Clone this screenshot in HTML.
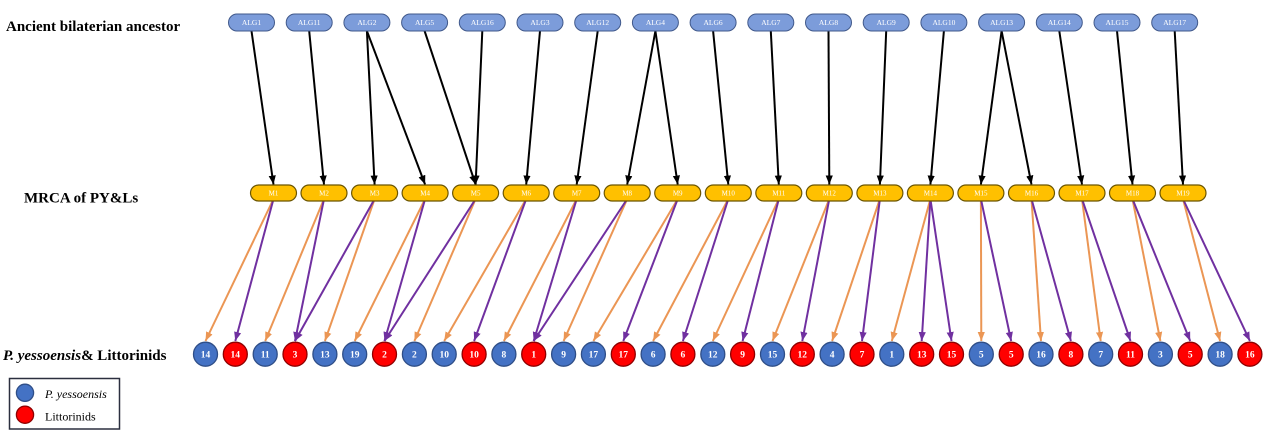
<!DOCTYPE html>
<html><head><meta charset="utf-8"><style>
html,body{margin:0;padding:0;background:#fff;}
svg{display:block;}
</style></head><body>
<svg width="1271" height="433" viewBox="0 0 1271 433" xmlns="http://www.w3.org/2000/svg">
<defs>
<marker id="ak" viewBox="0 0 10 8" refX="10" refY="4" markerWidth="9" markerHeight="7.5" orient="auto" markerUnits="userSpaceOnUse"><path d="M0,0 L10,4 L0,8 z" fill="#000"/></marker>
<marker id="ao" viewBox="0 0 10 8" refX="10" refY="4" markerWidth="9" markerHeight="7.5" orient="auto" markerUnits="userSpaceOnUse"><path d="M0,0 L10,4 L0,8 z" fill="#EB9654"/></marker>
<marker id="ap" viewBox="0 0 10 8" refX="10" refY="4" markerWidth="9" markerHeight="7.5" orient="auto" markerUnits="userSpaceOnUse"><path d="M0,0 L10,4 L0,8 z" fill="#7030A0"/></marker>
</defs>

<!-- Row labels -->
<g font-family="'Liberation Serif', serif" font-weight="bold" font-size="15" fill="#000">
<text x="6" y="31">Ancient bilaterian ancestor</text>
<text x="24" y="202.5">MRCA of PY&amp;Ls</text>
<text x="3" y="360"><tspan font-style="italic">P. yessoensis</tspan>&amp; Littorinids</text>
</g>

<!-- Black arrows ALG -> M -->
<g stroke="#000" stroke-width="2" marker-end="url(#ak)">
<line x1="251.5" y1="31" x2="273.5" y2="184.5"/>
<line x1="309.2" y1="31" x2="324.0" y2="184.5"/>
<line x1="366.9" y1="31" x2="374.6" y2="184.5"/>
<line x1="366.9" y1="31" x2="425.1" y2="184.5"/>
<line x1="424.6" y1="31" x2="475.6" y2="184.5"/>
<line x1="482.3" y1="31" x2="475.6" y2="184.5"/>
<line x1="540.0" y1="31" x2="526.2" y2="184.5"/>
<line x1="597.7" y1="31" x2="576.7" y2="184.5"/>
<line x1="655.4" y1="31" x2="627.2" y2="184.5"/>
<line x1="655.4" y1="31" x2="677.7" y2="184.5"/>
<line x1="713.1" y1="31" x2="728.3" y2="184.5"/>
<line x1="770.8" y1="31" x2="778.8" y2="184.5"/>
<line x1="828.5" y1="31" x2="829.3" y2="184.5"/>
<line x1="886.2" y1="31" x2="879.9" y2="184.5"/>
<line x1="943.9" y1="31" x2="930.4" y2="184.5"/>
<line x1="1001.6" y1="31" x2="980.9" y2="184.5"/>
<line x1="1001.6" y1="31" x2="1031.5" y2="184.5"/>
<line x1="1059.3" y1="31" x2="1082.0" y2="184.5"/>
<line x1="1117.0" y1="31" x2="1132.5" y2="184.5"/>
<line x1="1174.7" y1="31" x2="1183.0" y2="184.5"/>
</g>

<!-- Orange arrows M -> P. yessoensis -->
<g stroke="#EB9654" stroke-width="2" marker-end="url(#ao)">
<line x1="273.5" y1="199" x2="205.5" y2="341"/>
<line x1="324.0" y1="199" x2="265.2" y2="341"/>
<line x1="374.6" y1="199" x2="324.9" y2="341"/>
<line x1="425.1" y1="199" x2="354.7" y2="341"/>
<line x1="475.6" y1="199" x2="414.4" y2="341"/>
<line x1="526.2" y1="199" x2="444.2" y2="341"/>
<line x1="576.7" y1="199" x2="503.9" y2="341"/>
<line x1="627.2" y1="199" x2="563.6" y2="341"/>
<line x1="677.7" y1="199" x2="593.4" y2="341"/>
<line x1="728.3" y1="199" x2="653.1" y2="341"/>
<line x1="778.8" y1="199" x2="712.8" y2="341"/>
<line x1="829.3" y1="199" x2="772.5" y2="341"/>
<line x1="879.9" y1="199" x2="832.1" y2="341"/>
<line x1="930.4" y1="199" x2="891.8" y2="341"/>
<line x1="980.9" y1="199" x2="981.3" y2="341"/>
<line x1="1031.5" y1="199" x2="1041.0" y2="341"/>
<line x1="1082.0" y1="199" x2="1100.7" y2="341"/>
<line x1="1132.5" y1="199" x2="1160.4" y2="341"/>
<line x1="1183.0" y1="199" x2="1220.1" y2="341"/>
</g>

<!-- Purple arrows M -> Littorinids -->
<g stroke="#7030A0" stroke-width="2" marker-end="url(#ap)">
<line x1="273.5" y1="199" x2="235.3" y2="341"/>
<line x1="324.0" y1="199" x2="295.0" y2="341"/>
<line x1="374.6" y1="199" x2="295.0" y2="341"/>
<line x1="425.1" y1="199" x2="384.5" y2="341"/>
<line x1="475.6" y1="199" x2="384.5" y2="341"/>
<line x1="526.2" y1="199" x2="474.1" y2="341"/>
<line x1="576.7" y1="199" x2="533.7" y2="341"/>
<line x1="627.2" y1="199" x2="533.7" y2="341"/>
<line x1="677.7" y1="199" x2="623.3" y2="341"/>
<line x1="728.3" y1="199" x2="682.9" y2="341"/>
<line x1="778.8" y1="199" x2="742.6" y2="341"/>
<line x1="829.3" y1="199" x2="802.3" y2="341"/>
<line x1="879.9" y1="199" x2="862.0" y2="341"/>
<line x1="930.4" y1="199" x2="921.7" y2="341"/>
<line x1="930.4" y1="199" x2="951.5" y2="341"/>
<line x1="980.9" y1="199" x2="1011.2" y2="341"/>
<line x1="1031.5" y1="199" x2="1070.9" y2="341"/>
<line x1="1082.0" y1="199" x2="1130.5" y2="341"/>
<line x1="1132.5" y1="199" x2="1190.2" y2="341"/>
<line x1="1183.0" y1="199" x2="1249.9" y2="341"/>
</g>

<!-- ALG boxes -->
<g fill="#7C9CDA" stroke="#41598B" stroke-width="1">
<rect x="228.5" y="14" width="46" height="17" rx="8.5"/>
<rect x="286.2" y="14" width="46" height="17" rx="8.5"/>
<rect x="343.9" y="14" width="46" height="17" rx="8.5"/>
<rect x="401.6" y="14" width="46" height="17" rx="8.5"/>
<rect x="459.3" y="14" width="46" height="17" rx="8.5"/>
<rect x="517.0" y="14" width="46" height="17" rx="8.5"/>
<rect x="574.7" y="14" width="46" height="17" rx="8.5"/>
<rect x="632.4" y="14" width="46" height="17" rx="8.5"/>
<rect x="690.1" y="14" width="46" height="17" rx="8.5"/>
<rect x="747.8" y="14" width="46" height="17" rx="8.5"/>
<rect x="805.5" y="14" width="46" height="17" rx="8.5"/>
<rect x="863.2" y="14" width="46" height="17" rx="8.5"/>
<rect x="920.9" y="14" width="46" height="17" rx="8.5"/>
<rect x="978.6" y="14" width="46" height="17" rx="8.5"/>
<rect x="1036.3" y="14" width="46" height="17" rx="8.5"/>
<rect x="1094.0" y="14" width="46" height="17" rx="8.5"/>
<rect x="1151.7" y="14" width="46" height="17" rx="8.5"/>
</g>
<g font-family="'Liberation Serif', serif" font-size="7.5" fill="#fff" text-anchor="middle">
<text x="251.5" y="25">ALG1</text>
<text x="309.2" y="25">ALG11</text>
<text x="366.9" y="25">ALG2</text>
<text x="424.6" y="25">ALG5</text>
<text x="482.3" y="25">ALG16</text>
<text x="540.0" y="25">ALG3</text>
<text x="597.7" y="25">ALG12</text>
<text x="655.4" y="25">ALG4</text>
<text x="713.1" y="25">ALG6</text>
<text x="770.8" y="25">ALG7</text>
<text x="828.5" y="25">ALG8</text>
<text x="886.2" y="25">ALG9</text>
<text x="943.9" y="25">ALG10</text>
<text x="1001.6" y="25">ALG13</text>
<text x="1059.3" y="25">ALG14</text>
<text x="1117.0" y="25">ALG15</text>
<text x="1174.7" y="25">ALG17</text>
</g>

<!-- M boxes -->
<g fill="#FFC000" stroke="#6B5500" stroke-width="1.2">
<rect x="250.5" y="185" width="46" height="16" rx="8"/>
<rect x="301.0" y="185" width="46" height="16" rx="8"/>
<rect x="351.6" y="185" width="46" height="16" rx="8"/>
<rect x="402.1" y="185" width="46" height="16" rx="8"/>
<rect x="452.6" y="185" width="46" height="16" rx="8"/>
<rect x="503.2" y="185" width="46" height="16" rx="8"/>
<rect x="553.7" y="185" width="46" height="16" rx="8"/>
<rect x="604.2" y="185" width="46" height="16" rx="8"/>
<rect x="654.7" y="185" width="46" height="16" rx="8"/>
<rect x="705.3" y="185" width="46" height="16" rx="8"/>
<rect x="755.8" y="185" width="46" height="16" rx="8"/>
<rect x="806.3" y="185" width="46" height="16" rx="8"/>
<rect x="856.9" y="185" width="46" height="16" rx="8"/>
<rect x="907.4" y="185" width="46" height="16" rx="8"/>
<rect x="957.9" y="185" width="46" height="16" rx="8"/>
<rect x="1008.5" y="185" width="46" height="16" rx="8"/>
<rect x="1059.0" y="185" width="46" height="16" rx="8"/>
<rect x="1109.5" y="185" width="46" height="16" rx="8"/>
<rect x="1160.0" y="185" width="46" height="16" rx="8"/>
</g>
<g font-family="'Liberation Serif', serif" font-size="7" fill="#fff" text-anchor="middle">
<text x="273.5" y="195.5">M1</text>
<text x="324.0" y="195.5">M2</text>
<text x="374.6" y="195.5">M3</text>
<text x="425.1" y="195.5">M4</text>
<text x="475.6" y="195.5">M5</text>
<text x="526.2" y="195.5">M6</text>
<text x="576.7" y="195.5">M7</text>
<text x="627.2" y="195.5">M8</text>
<text x="677.7" y="195.5">M9</text>
<text x="728.3" y="195.5">M10</text>
<text x="778.8" y="195.5">M11</text>
<text x="829.3" y="195.5">M12</text>
<text x="879.9" y="195.5">M13</text>
<text x="930.4" y="195.5">M14</text>
<text x="980.9" y="195.5">M15</text>
<text x="1031.5" y="195.5">M16</text>
<text x="1082.0" y="195.5">M17</text>
<text x="1132.5" y="195.5">M18</text>
<text x="1183.0" y="195.5">M19</text>
</g>

<!-- Circles -->
<g stroke-width="1.3">
<circle cx="205.5" cy="354.2" r="12" fill="#4472C4" stroke="#2F4E87"/>
<circle cx="235.3" cy="354.2" r="12" fill="#FF0000" stroke="#8E0000"/>
<circle cx="265.2" cy="354.2" r="12" fill="#4472C4" stroke="#2F4E87"/>
<circle cx="295.0" cy="354.2" r="12" fill="#FF0000" stroke="#8E0000"/>
<circle cx="324.9" cy="354.2" r="12" fill="#4472C4" stroke="#2F4E87"/>
<circle cx="354.7" cy="354.2" r="12" fill="#4472C4" stroke="#2F4E87"/>
<circle cx="384.5" cy="354.2" r="12" fill="#FF0000" stroke="#8E0000"/>
<circle cx="414.4" cy="354.2" r="12" fill="#4472C4" stroke="#2F4E87"/>
<circle cx="444.2" cy="354.2" r="12" fill="#4472C4" stroke="#2F4E87"/>
<circle cx="474.1" cy="354.2" r="12" fill="#FF0000" stroke="#8E0000"/>
<circle cx="503.9" cy="354.2" r="12" fill="#4472C4" stroke="#2F4E87"/>
<circle cx="533.7" cy="354.2" r="12" fill="#FF0000" stroke="#8E0000"/>
<circle cx="563.6" cy="354.2" r="12" fill="#4472C4" stroke="#2F4E87"/>
<circle cx="593.4" cy="354.2" r="12" fill="#4472C4" stroke="#2F4E87"/>
<circle cx="623.3" cy="354.2" r="12" fill="#FF0000" stroke="#8E0000"/>
<circle cx="653.1" cy="354.2" r="12" fill="#4472C4" stroke="#2F4E87"/>
<circle cx="682.9" cy="354.2" r="12" fill="#FF0000" stroke="#8E0000"/>
<circle cx="712.8" cy="354.2" r="12" fill="#4472C4" stroke="#2F4E87"/>
<circle cx="742.6" cy="354.2" r="12" fill="#FF0000" stroke="#8E0000"/>
<circle cx="772.5" cy="354.2" r="12" fill="#4472C4" stroke="#2F4E87"/>
<circle cx="802.3" cy="354.2" r="12" fill="#FF0000" stroke="#8E0000"/>
<circle cx="832.1" cy="354.2" r="12" fill="#4472C4" stroke="#2F4E87"/>
<circle cx="862.0" cy="354.2" r="12" fill="#FF0000" stroke="#8E0000"/>
<circle cx="891.8" cy="354.2" r="12" fill="#4472C4" stroke="#2F4E87"/>
<circle cx="921.7" cy="354.2" r="12" fill="#FF0000" stroke="#8E0000"/>
<circle cx="951.5" cy="354.2" r="12" fill="#FF0000" stroke="#8E0000"/>
<circle cx="981.3" cy="354.2" r="12" fill="#4472C4" stroke="#2F4E87"/>
<circle cx="1011.2" cy="354.2" r="12" fill="#FF0000" stroke="#8E0000"/>
<circle cx="1041.0" cy="354.2" r="12" fill="#4472C4" stroke="#2F4E87"/>
<circle cx="1070.9" cy="354.2" r="12" fill="#FF0000" stroke="#8E0000"/>
<circle cx="1100.7" cy="354.2" r="12" fill="#4472C4" stroke="#2F4E87"/>
<circle cx="1130.5" cy="354.2" r="12" fill="#FF0000" stroke="#8E0000"/>
<circle cx="1160.4" cy="354.2" r="12" fill="#4472C4" stroke="#2F4E87"/>
<circle cx="1190.2" cy="354.2" r="12" fill="#FF0000" stroke="#8E0000"/>
<circle cx="1220.1" cy="354.2" r="12" fill="#4472C4" stroke="#2F4E87"/>
<circle cx="1249.9" cy="354.2" r="12" fill="#FF0000" stroke="#8E0000"/>
</g>
<g font-family="'Liberation Serif', serif" font-weight="bold" font-size="9.5" fill="#fff" text-anchor="middle">
<text x="205.5" y="357.5">14</text>
<text x="235.3" y="357.5">14</text>
<text x="265.2" y="357.5">11</text>
<text x="295.0" y="357.5">3</text>
<text x="324.9" y="357.5">13</text>
<text x="354.7" y="357.5">19</text>
<text x="384.5" y="357.5">2</text>
<text x="414.4" y="357.5">2</text>
<text x="444.2" y="357.5">10</text>
<text x="474.1" y="357.5">10</text>
<text x="503.9" y="357.5">8</text>
<text x="533.7" y="357.5">1</text>
<text x="563.6" y="357.5">9</text>
<text x="593.4" y="357.5">17</text>
<text x="623.3" y="357.5">17</text>
<text x="653.1" y="357.5">6</text>
<text x="682.9" y="357.5">6</text>
<text x="712.8" y="357.5">12</text>
<text x="742.6" y="357.5">9</text>
<text x="772.5" y="357.5">15</text>
<text x="802.3" y="357.5">12</text>
<text x="832.1" y="357.5">4</text>
<text x="862.0" y="357.5">7</text>
<text x="891.8" y="357.5">1</text>
<text x="921.7" y="357.5">13</text>
<text x="951.5" y="357.5">15</text>
<text x="981.3" y="357.5">5</text>
<text x="1011.2" y="357.5">5</text>
<text x="1041.0" y="357.5">16</text>
<text x="1070.9" y="357.5">8</text>
<text x="1100.7" y="357.5">7</text>
<text x="1130.5" y="357.5">11</text>
<text x="1160.4" y="357.5">3</text>
<text x="1190.2" y="357.5">5</text>
<text x="1220.1" y="357.5">18</text>
<text x="1249.9" y="357.5">16</text>
</g>

<!-- Legend -->
<rect x="9.5" y="378.5" width="110" height="50.5" fill="#fff" stroke="#2B2F3F" stroke-width="1.5"/>
<circle cx="25" cy="392.8" r="8.6" fill="#4472C4" stroke="#2F4E87" stroke-width="1.3"/>
<circle cx="25" cy="414.7" r="8.6" fill="#FF0000" stroke="#8E0000" stroke-width="1.3"/>
<g font-family="'Liberation Serif', serif" font-size="12" fill="#000">
<text x="45" y="398" font-style="italic">P. yessoensis</text>
<text x="45" y="420.5">Littorinids</text>
</g>
</svg>
</body></html>
